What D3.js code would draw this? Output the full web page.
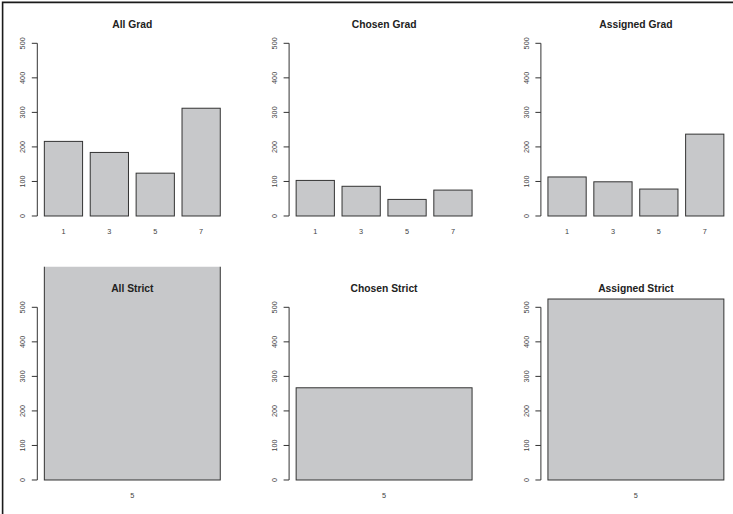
<!DOCTYPE html>
<html>
<head>
<meta charset="utf-8">
<script src="https://cdn.jsdelivr.net/npm/d3@7"></script>
<style>
  html, body { margin: 0; padding: 0; background: #fff; }
  svg { display: block; font-family: "Liberation Sans", Arial, Helvetica, sans-serif; }
</style>
</head>
<body>
<svg id="chart" width="733" height="514"></svg>
<script>
// Response categories for the graded items, and the single strict category
const gradCategories = ["1", "3", "5", "7"];
const strictCategories = ["5"];

// Counts per category
const allGrad = [216, 184, 124, 312];
const chosenGrad = [103, 86, 48, 75];
const assignedGrad = [113, 99, 78, 237];
const allStrict = [791];
const chosenStrict = [267];
const assignedStrict = [524];

// y-axis ticks shared by every panel
const yTicks = [0, 100, 200, 300, 400, 500];

const panels = [
  { title: "All Grad", cats: gradCategories, values: allGrad },
  { title: "Chosen Grad", cats: gradCategories, values: chosenGrad },
  { title: "Assigned Grad", cats: gradCategories, values: assignedGrad },
  { title: "All Strict", cats: strictCategories, values: allStrict },
  { title: "Chosen Strict", cats: strictCategories, values: chosenStrict },
  { title: "Assigned Strict", cats: strictCategories, values: assignedStrict }
];

const svg = d3.select("#chart");
const colStep = 251.8, rowStep = 264;
const plotLeft0 = 37.3, plotWidth = 190;
const figTop0 = 2.7;
const y0Top = 222.9, yTopTop = 36.4;   // plot region bottom/top for the first row

const fill = "#c7c8ca", ink = "#333333";

panels.forEach((p, i) => {
  const col = i % 3, row = Math.floor(i / 3);
  const left = plotLeft0 + col * colStep;
  const dy = row * rowStep;
  const n = p.cats.length;

  // barplot geometry: width 1, space 0.2, 4% axis extension
  const lo = 0.2, hi = n * 1.2;
  const ext = 0.04 * (hi - lo);
  const x = d3.scaleLinear().domain([lo - ext, hi + ext]).range([left, left + plotWidth]);
  const y = d3.scaleLinear().domain([-20, 520]).range([y0Top + dy, yTopTop + dy]);

  const g = svg.append("g");

  // bars may spill above the plot region, but stay inside the figure cell
  const clipId = "clip" + i;
  svg.append("clipPath").attr("id", clipId).append("rect")
    .attr("x", left - 40).attr("y", figTop0 + dy)
    .attr("width", colStep).attr("height", rowStep);

  g.append("g").attr("clip-path", `url(#${clipId})`)
    .selectAll("rect").data(p.values).join("rect")
    .attr("x", (d, k) => x(0.2 + k * 1.2))
    .attr("width", (d, k) => x(1.2 + k * 1.2) - x(0.2 + k * 1.2))
    .attr("y", d => y(d))
    .attr("height", d => y(0) - y(d))
    .attr("fill", fill)
    .attr("stroke", ink)
    .attr("stroke-width", 1);

  // title
  g.append("text")
    .attr("x", left + plotWidth / 2)
    .attr("y", 27.7 + dy)
    .attr("text-anchor", "middle")
    .attr("font-weight", "bold")
    .attr("font-size", "10.3px")
    .attr("fill", "#222")
    .text(p.title);

  // y axis
  const yAxis = g.append("g");
  yAxis.append("line")
    .attr("x1", left).attr("x2", left)
    .attr("y1", y(yTicks[0])).attr("y2", y(yTicks[yTicks.length - 1]))
    .attr("stroke", ink).attr("stroke-width", 1);
  yAxis.selectAll("line.tick").data(yTicks).join("line")
    .attr("class", "tick")
    .attr("x1", left - 5.5).attr("x2", left)
    .attr("y1", d => y(d)).attr("y2", d => y(d))
    .attr("stroke", ink).attr("stroke-width", 1);
  yAxis.selectAll("text").data(yTicks).join("text")
    .attr("transform", d => `translate(${left - 12.4},${y(d)}) rotate(-90)`)
    .attr("text-anchor", "middle")
    .attr("font-size", "7.3px")
    .attr("fill", "#444")
    .text(d => d);

  // category labels under the bars
  g.selectAll("text.cat").data(p.cats).join("text")
    .attr("class", "cat")
    .attr("x", (d, k) => x(0.7 + k * 1.2))
    .attr("y", 233.7 + dy)
    .attr("text-anchor", "middle")
    .attr("font-size", "7.3px")
    .attr("fill", "#444")
    .text(d => d);
});

// frame along the top and left edges
svg.append("path")
  .attr("d", "M2.6,514 V2.4 H733")
  .attr("fill", "none")
  .attr("stroke", "#1a1a1a")
  .attr("stroke-width", 1.6);
</script>
</body>
</html>
